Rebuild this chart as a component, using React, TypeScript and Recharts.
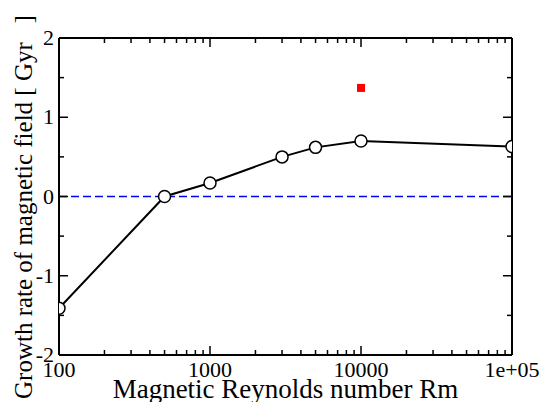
import React from 'react';
import {ComposedChart, Line, Scatter, XAxis, YAxis, ReferenceLine} from 'recharts';

// growth rate vs magnetic Reynolds number
const rmValues = [100, 500, 1000, 3000, 5000, 10000, 100000];
const growthRates = [-1.41, 0.0, 0.17, 0.5, 0.62, 0.7, 0.63];

// single red marker
const markerRm = [10000];
const markerRates = [1.37];

const xMajorTicks = [100, 1000, 10000, 100000];
const xMinorTicks = [200, 300, 400, 500, 600, 700, 800, 900, 2000, 3000, 4000, 5000, 6000, 7000, 8000, 9000,
    20000, 30000, 40000, 50000, 60000, 70000, 80000, 90000];
const xTickLabels = ['100', '1000', '10000', '1e+05'];

const yMajorTicks = [-2, -1, 0, 1, 2];
const yMinorTicks = [-1.5, -0.5, 0.5, 1.5];
const yTickLabels = ['-2', '-1', '0', '1', '2'];

const growthData = rmValues.map((rm, i) => ({rm, rate: growthRates[i]}));
const markerData = markerRm.map((rm, i) => ({rm, rate: markerRates[i]}));
const xTicks = [...xMajorTicks, ...xMinorTicks].sort((a, b) => a - b);
const yTicks = [...yMajorTicks, ...yMinorTicks].sort((a, b) => a - b);

const FONT = 'Liberation Serif';
const MAJOR = 9;
const MINOR = 5;

const BottomTick = (props: any) => {
    const {x, y, payload} = props;
    const idx = xMajorTicks.indexOf(payload.value);
    const len = idx >= 0 ? MAJOR : MINOR;
    return (
        <g>
            <line x1={x} y1={y} x2={x} y2={y - len} stroke="#000" strokeWidth={1.5}/>
            {idx >= 0 && (
                <text x={x} y={y + 22} textAnchor="middle" fontSize={22} fontFamily={FONT} fill="#000">
                    {xTickLabels[idx]}
                </text>
            )}
        </g>
    );
};

const TopTick = (props: any) => {
    const {x, y, payload} = props;
    const len = xMajorTicks.includes(payload.value) ? MAJOR : MINOR;
    return <line x1={x} y1={y} x2={x} y2={y + len} stroke="#000" strokeWidth={1.5}/>;
};

const LeftTick = (props: any) => {
    const {x, y, payload} = props;
    const idx = yMajorTicks.indexOf(payload.value);
    const len = idx >= 0 ? MAJOR : MINOR;
    return (
        <g>
            <line x1={x} y1={y} x2={x + len} y2={y} stroke="#000" strokeWidth={1.5}/>
            {idx >= 0 && (
                <text x={x - 5} y={y + 7} textAnchor="end" fontSize={22} fontFamily={FONT} fill="#000">
                    {yTickLabels[idx]}
                </text>
            )}
        </g>
    );
};

const RightTick = (props: any) => {
    const {x, y, payload} = props;
    const len = yMajorTicks.includes(payload.value) ? MAJOR : MINOR;
    return <line x1={x} y1={y} x2={x - len} y2={y} stroke="#000" strokeWidth={1.5}/>;
};

const XLabel = (props: any) => {
    const vb = props.viewBox;
    return (
        <text x={vb.x + vb.width / 2} y={vb.y + 43} textAnchor="middle" fontSize={27} fontFamily={FONT} fill="#000">
            Magnetic Reynolds number Rm
        </text>
    );
};

const YLabel = (props: any) => {
    const vb = props.viewBox;
    const x = vb.x + 32;
    const y = 399;
    return (
        <text x={x} y={y} transform={`rotate(-90, ${x}, ${y})`} textAnchor="start" fontSize={25}
              fontFamily={FONT} fill="#000" style={{whiteSpace: 'pre'}}>
            {'Growth rate of magnetic field [ Gyr   ]'}
        </text>
    );
};

const App: React.FC = () => {
    const axisLine = {stroke: '#000', strokeWidth: 2};
    return (
        <div style={{position: 'absolute', left: 0, top: 0, background: '#fff'}}>
            <ComposedChart width={544} height={402} margin={{top: 0, right: 0, bottom: 0, left: 0}}>
                <XAxis dataKey="rm" type="number" scale="log" domain={[100, 100000]} allowDataOverflow
                       ticks={xTicks} interval={0} tickSize={0} tickMargin={0} tickLine={false}
                       axisLine={axisLine} tick={<BottomTick/>} height={47} label={XLabel}/>
                <XAxis xAxisId="top" orientation="top" dataKey="rm" type="number" scale="log"
                       domain={[100, 100000]} allowDataOverflow ticks={xTicks} interval={0} tickSize={0}
                       tickMargin={0} tickLine={false} axisLine={axisLine} tick={<TopTick/>} height={38}/>
                <YAxis type="number" domain={[-2, 2]} allowDataOverflow ticks={yTicks} interval={0}
                       tickSize={0} tickMargin={0} tickLine={false} axisLine={axisLine} tick={<LeftTick/>}
                       width={59} label={YLabel}/>
                <YAxis yAxisId="right" orientation="right" type="number" domain={[-2, 2]} allowDataOverflow
                       ticks={yTicks} interval={0} tickSize={0} tickMargin={0} tickLine={false}
                       axisLine={axisLine} tick={<RightTick/>} width={32}/>
                <ReferenceLine y={0} stroke="#0000ff" strokeWidth={1.5} strokeDasharray="8 4"/>
                <Line data={growthData} dataKey="rate" type="linear" stroke="#000" strokeWidth={2}
                      dot={{r: 6, fill: '#fff', stroke: '#000', strokeWidth: 1.5}} activeDot={false}
                      isAnimationActive={false}/>
                <Scatter data={markerData} dataKey="rate" shape="square" fill="#ff0000"
                         isAnimationActive={false}/>
            </ComposedChart>
        </div>
    );
};

export default App;
